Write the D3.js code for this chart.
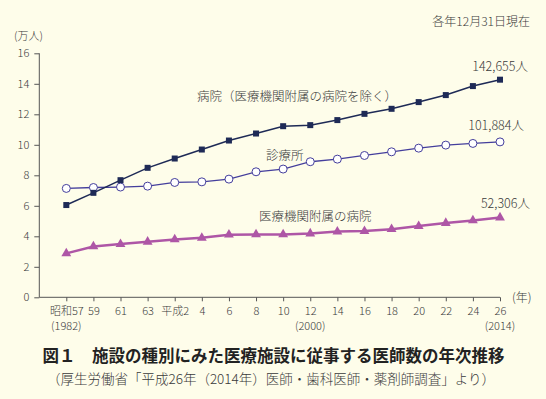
<!DOCTYPE html>
<html lang="ja">
<head>
<meta charset="UTF-8" />
<title>施設の種別にみた医療施設に従事する医師数の年次推移</title>
<script src="https://cdn.jsdelivr.net/npm/d3@7"></script>
<style>
  body { margin: 0; background: #fefdea; }
  svg text { font-family: "Noto Sans CJK JP", "Noto Sans", sans-serif; fill: #3a3a3a; font-weight: 300; }
</style>
</head>
<body>
<div id="chart"></div>
<script>
// years of survey (西暦) and their labels
const years = [1982, 1984, 1986, 1988, 1990, 1992, 1994, 1996, 1998, 2000, 2002, 2004, 2006, 2008, 2010, 2012, 2014];
const yearLabels = ["昭和57", "59", "61", "63", "平成2", "4", "6", "8", "10", "12", "14", "16", "18", "20", "22", "24", "26"];
const westernLabels = [[1982, "(1982)"], [2000, "(2000)"], [2014, "(2014)"]];
const yTicks = [0, 2, 4, 6, 8, 10, 12, 14, 16];

// 万人
const hospital = [6.05, 6.85, 7.68, 8.49, 9.10, 9.69, 10.28, 10.74, 11.22, 11.29, 11.62, 12.03, 12.36, 12.80, 13.26, 13.85, 14.27];
const clinic = [7.14, 7.20, 7.23, 7.29, 7.53, 7.57, 7.75, 8.23, 8.41, 8.89, 9.06, 9.30, 9.54, 9.78, 9.98, 10.09, 10.19];
const univ = [2.88, 3.33, 3.49, 3.64, 3.79, 3.90, 4.10, 4.12, 4.12, 4.18, 4.31, 4.34, 4.47, 4.67, 4.87, 5.04, 5.23];

const w = 546, h = 399;
const svg = d3.select("#chart").append("svg")
    .attr("width", w).attr("height", h);

svg.append("rect").attr("width", w).attr("height", h).attr("fill", "#fefdea");

const x = d3.scaleLinear([1982, 2014], [66.3, 500]);
const y = d3.scaleLinear([0, 16], [297.3, 53.3]);
const axisX0 = 39.3;

// axes
const yAxis = svg.append("g")
    .attr("transform", "translate(" + axisX0 + ",0)")
    .call(d3.axisLeft(y).tickValues(yTicks).tickSize(5).tickPadding(5));
yAxis.select(".domain").attr("d", "M0," + y(16) + "V" + y(0));

const xAxis = svg.append("g")
    .attr("transform", "translate(0," + y(0) + ")")
    .call(d3.axisBottom(x).tickValues(years).tickSize(4).tickPadding(6)
        .tickFormat((d, i) => yearLabels[i]));
xAxis.select(".domain").attr("d", "M" + axisX0 + ",0H" + x(2014));

svg.selectAll(".tick line").attr("stroke", "#555");
svg.selectAll(".domain").attr("stroke", "#555");
svg.selectAll(".tick text").attr("font-size", 11).style("fill", "#3a3a3a")
    .attr("font-family", "\"Noto Sans CJK JP\", sans-serif");

svg.selectAll(".west")
  .data(westernLabels)
  .enter().append("text")
  .attr("x", d => x(d[0]))
  .attr("y", 330)
  .attr("text-anchor", "middle")
  .attr("font-size", 11)
  .text(d => d[1]);

svg.append("text").attr("x", 512).attr("y", 302).attr("font-size", 12).text("(年)");
svg.append("text").attr("x", 14).attr("y", 40).attr("font-size", 11).text("(万人)");
svg.append("text").attr("x", 530).attr("y", 26).attr("text-anchor", "end").attr("font-size", 12).text("各年12月31日現在");

// lines
const line = d3.line().x((d, i) => x(years[i])).y(d => y(d));

svg.append("path").datum(univ).attr("d", line)
    .attr("fill", "none").attr("stroke", "#ae56a6").attr("stroke-width", 2.5);
svg.append("path").datum(clinic).attr("d", line)
    .attr("fill", "none").attr("stroke", "#443e9c").attr("stroke-width", 1.3);
svg.append("path").datum(hospital).attr("d", line)
    .attr("fill", "none").attr("stroke", "#1e2a56").attr("stroke-width", 1.5);

// markers
svg.selectAll(".tri").data(univ).enter().append("path")
    .attr("d", d3.symbol(d3.symbolTriangle, 42))
    .attr("transform", (d, i) => "translate(" + x(years[i]) + "," + y(d) + ")")
    .attr("fill", "#ae56a6");

svg.selectAll(".circ").data(clinic).enter().append("circle")
    .attr("cx", (d, i) => x(years[i])).attr("cy", d => y(d)).attr("r", 4)
    .attr("fill", "#fff").attr("stroke", "#443e9c").attr("stroke-width", 1);

svg.selectAll(".sq").data(hospital).enter().append("rect")
    .attr("x", (d, i) => x(years[i]) - 3).attr("y", d => y(d) - 3)
    .attr("width", 6).attr("height", 6)
    .attr("fill", "#1e2a56");

// line labels
const lbl = (tx, ty, s, anchor) => svg.append("text").attr("x", tx).attr("y", ty)
    .attr("font-size", 12.5).attr("text-anchor", anchor || "start").text(s);
lbl(197, 101, "病院（医療機関附属の病院を除く）");
lbl(266, 160, "診療所");
lbl(259, 221, "医療機関附属の病院");
lbl(528, 71, "142,655人", "end");
lbl(524, 130, "101,884人", "end");
lbl(530, 208, "52,306人", "end");

// title
svg.append("text").attr("x", 273.5).attr("y", 362).attr("text-anchor", "middle")
    .attr("font-size", 16.5).style("font-weight", "bold").style("fill", "#222")
    .text("図１　施設の種別にみた医療施設に従事する医師数の年次推移");
svg.append("text").attr("x", 271).attr("y", 384).attr("text-anchor", "middle")
    .attr("font-size", 13.5)
    .text("（厚生労働省「平成26年（2014年）医師・歯科医師・薬剤師調査」より）");
</script>
</body>
</html>
